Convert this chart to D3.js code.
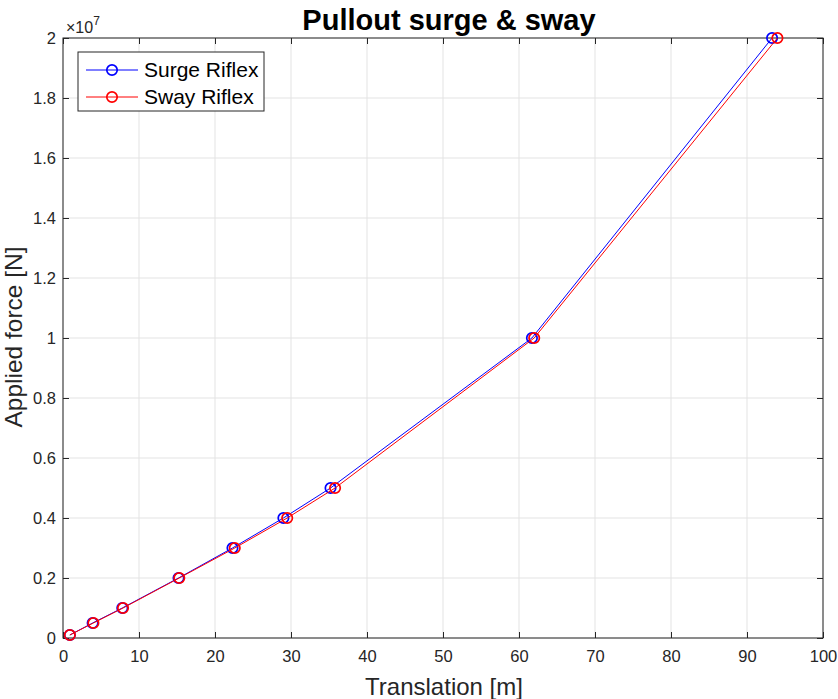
<!DOCTYPE html>
<html><head><meta charset="utf-8">
<script src="https://cdn.jsdelivr.net/npm/d3@7"></script>
<style>body{margin:0;background:#fff}svg{display:block;font-family:"Liberation Sans",Arial,sans-serif}</style>
</head><body><svg id="c" width="838" height="699"></svg>
<script>
const forces = [1e5, 5e5, 1e6, 2e6, 3e6, 4e6, 5e6, 1e7, 2e7];
const surgeX = [0.9, 3.9, 7.8, 15.2, 22.3, 29.0, 35.2, 61.7, 93.3];
const swayX  = [0.9, 4.0, 7.9, 15.3, 22.6, 29.5, 35.8, 62.0, 94.0];
const xTicks = [0,10,20,30,40,50,60,70,80,90,100];
const yTicks = [0,0.2,0.4,0.6,0.8,1,1.2,1.4,1.6,1.8,2];
const seriesNames = ["Surge Riflex","Sway Riflex"];
const seriesColors = ["#0000ff","#ff0000"];

const svg = d3.select("#c");
const L=63,R=823,T=38,B=638;
const x = d3.scaleLinear().domain([0,100]).range([L,R]);
const y = d3.scaleLinear().domain([0,2e7]).range([B,T]);
const axCol="#262626";

// grid
svg.append("g").selectAll("line").data(xTicks).join("line")
  .attr("x1",d=>x(d)).attr("x2",d=>x(d)).attr("y1",T).attr("y2",B)
  .attr("stroke","#e3e3e3").attr("stroke-width",1);
svg.append("g").selectAll("line").data(yTicks).join("line")
  .attr("y1",d=>y(d*1e7)).attr("y2",d=>y(d*1e7)).attr("x1",L).attr("x2",R)
  .attr("stroke","#e3e3e3").attr("stroke-width",1);

// axes
const xa = svg.append("g").attr("transform",`translate(0,${B})`)
  .call(d3.axisBottom(x).tickValues(xTicks).tickSize(-6).tickPadding(12).tickFormat(d3.format("d")));
const xt = svg.append("g").attr("transform",`translate(0,${T})`)
  .call(d3.axisTop(x).tickValues(xTicks).tickSize(-6).tickFormat(""));
const ya = svg.append("g").attr("transform",`translate(${L},0)`)
  .call(d3.axisLeft(y).tickValues(yTicks.map(v=>v*1e7)).tickSize(-6).tickPadding(7).tickFormat(d=>d3.format("~g")(d/1e7)));
const yr = svg.append("g").attr("transform",`translate(${R},0)`)
  .call(d3.axisRight(y).tickValues(yTicks.map(v=>v*1e7)).tickSize(-6).tickFormat(""));
[xa,xt,ya,yr].forEach(g=>{
  g.select(".domain").remove();
  g.attr("font-size",null).attr("font-family",null);
  g.selectAll("line").attr("stroke",axCol);
  g.selectAll("text").attr("fill",axCol).attr("font-size","16.5px").attr("font-family","'Liberation Sans',Arial,sans-serif");
});
svg.append("rect").attr("x",L).attr("y",T).attr("width",R-L).attr("height",B-T)
  .attr("fill","none").attr("stroke",axCol).attr("stroke-width",1);

// exponent
const ex = svg.append("text").attr("x",66).attr("y",33).attr("fill",axCol).attr("font-size","16px");
ex.append("tspan").text("×10");
ex.append("tspan").attr("dy",-8).attr("font-size","12px").text("7");

// series
const series = [surgeX, swayX];
series.forEach((xs,i)=>{
  const pts = xs.map((v,j)=>[v,forces[j]]);
  svg.append("path").datum(pts)
    .attr("d",d3.line().x(d=>x(d[0])).y(d=>y(d[1])))
    .attr("fill","none").attr("stroke",seriesColors[i]).attr("stroke-width",1);
  svg.append("g").selectAll("circle").data(pts).join("circle")
    .attr("cx",d=>x(d[0])).attr("cy",d=>y(d[1])).attr("r",5.2)
    .attr("fill","none").attr("stroke",seriesColors[i]).attr("stroke-width",1.7);
});

// title & labels
svg.append("text").attr("x",(L+R)/2+6).attr("y",30).attr("text-anchor","middle")
  .attr("font-size","29px").attr("font-weight","bold").attr("fill","#000").text("Pullout surge & sway");
svg.append("text").attr("x",(L+R)/2+1).attr("y",695).attr("text-anchor","middle")
  .attr("font-size","24px").attr("fill",axCol).text("Translation [m]");
svg.append("text").attr("transform",`translate(22,${(T+B)/2-1}) rotate(-90)`).attr("text-anchor","middle")
  .attr("font-size","24.5px").attr("fill",axCol).text("Applied force [N]");

// legend
const lg = svg.append("g");
lg.append("rect").attr("x",78).attr("y",52).attr("width",186).attr("height",59)
  .attr("fill","#fff").attr("stroke",axCol).attr("stroke-width",1);
seriesNames.forEach((n,i)=>{
  const yy = 70 + i*27;
  lg.append("line").attr("x1",86).attr("x2",138).attr("y1",yy).attr("y2",yy)
    .attr("stroke",seriesColors[i]).attr("stroke-width",1);
  lg.append("circle").attr("cx",112).attr("cy",yy).attr("r",5.2)
    .attr("fill","none").attr("stroke",seriesColors[i]).attr("stroke-width",1.7);
  lg.append("text").attr("x",144).attr("y",yy+7).attr("font-size","21px").attr("fill","#000").text(n);
});
</script></body></html>
